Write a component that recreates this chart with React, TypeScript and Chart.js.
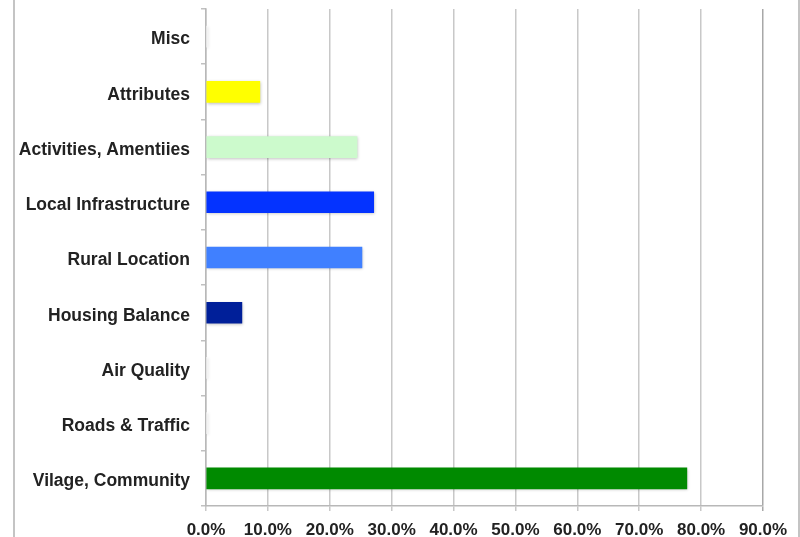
import React, { useEffect, useRef } from "react";
import { Chart, registerables } from "chart.js";

Chart.register(...registerables);

const categories = [
  "Misc",
  "Attributes",
  "Activities, Amentiies",
  "Local Infrastructure",
  "Rural Location",
  "Housing Balance",
  "Air Quality",
  "Roads & Traffic",
  "Vilage, Community",
];
const values = [0.1, 8.7, 24.4, 27.1, 25.2, 5.8, 0.1, 0.1, 77.7];
const barColors = [
  "#f4f4f4",
  "#ffff00",
  "#ccfacc",
  "#0433ff",
  "#4080ff",
  "#001f99",
  "#f4f4f4",
  "#f4f4f4",
  "#008a00",
];
const xTicks = [0, 10, 20, 30, 40, 50, 60, 70, 80, 90];

const FONT = '"Liberation Sans", Arial, Helvetica, sans-serif';

const framePlugin = {
  id: "frame",
  afterDraw(chart: any) {
    const ctx = chart.ctx;
    ctx.save();
    ctx.strokeStyle = "#c4c4c4";
    ctx.lineWidth = 2;
    ctx.beginPath();
    ctx.moveTo(14, 0);
    ctx.lineTo(14, chart.height);
    ctx.moveTo(799, 0);
    ctx.lineTo(799, chart.height);
    ctx.stroke();
    ctx.restore();
  },
};

const shadowPlugin = {
  id: "barShadow",
  beforeDatasetsDraw(chart: any) {
    const ctx = chart.ctx;
    ctx.save();
    ctx.shadowColor = "rgba(0,0,0,0.25)";
    ctx.shadowBlur = 3;
    ctx.shadowOffsetX = 1;
    ctx.shadowOffsetY = 1;
  },
  afterDatasetsDraw(chart: any) {
    chart.ctx.restore();
  },
};

export default function App() {
  const ref = useRef<HTMLCanvasElement | null>(null);
  useEffect(() => {
    document.body.style.margin = "0";
    const chart = new Chart(ref.current!, {
      type: "bar",
      data: {
        labels: categories,
        datasets: [
          {
            data: values,
            backgroundColor: barColors,
            barThickness: 21,
          },
        ],
      },
      options: {
        indexAxis: "y",
        animation: false,
        responsive: false,
        maintainAspectRatio: false,
        layout: { padding: { top: 9, right: 37, left: 0, bottom: 0 } },
        plugins: { legend: { display: false }, tooltip: { enabled: false } },
        scales: {
          x: {
            min: 0,
            max: 90,
            afterBuildTicks(scale: any) {
              scale.ticks = xTicks.map((v) => ({ value: v }));
            },
            afterFit(scale: any) {
              scale.height = 31;
            },
            grid: {
              color: (c: any) =>
                c.tick && c.tick.value === 90 ? "#a8a8a8" : "#c8c8c8",
              lineWidth: 1.5,
              tickLength: 5,
            },
            border: { color: "#b8b8b8", width: 1.5 },
            ticks: {
              callback: (v: any) => Number(v).toFixed(1) + "%",
              font: { family: FONT, size: 17, weight: "bold" },
              color: "#222",
              padding: 9,
              maxRotation: 0,
            },
          },
          y: {
            afterFit(scale: any) {
              scale.width = 206;
              scale.paddingTop = 0;
              scale.paddingBottom = 0;
            },
            grid: {
              drawOnChartArea: false,
              offset: true,
              tickLength: 5,
              color: "#c0c0c0",
              lineWidth: 1.5,
            },
            border: { color: "#b8b8b8", width: 1.5 },
            ticks: {
              font: { family: FONT, size: 17.5, weight: "bold" },
              color: "#222",
              padding: 11,
              labelOffset: 3,
            },
          },
        },
      },
      plugins: [shadowPlugin, framePlugin],
    });
    return () => chart.destroy();
  }, []);
  return (
    <div style={{ position: "absolute", left: 0, top: 0, width: 800, height: 537 }}>
      <canvas ref={ref} width={800} height={537} />
    </div>
  );
}
